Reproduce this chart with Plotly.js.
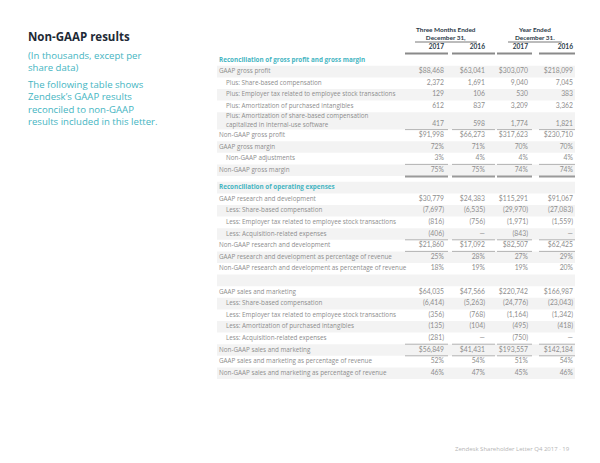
<!DOCTYPE html>
<html>
<head>
<meta charset="utf-8">
<script src="https://cdn.plot.ly/plotly-3.0.1.min.js"></script>
<style>
html, body { margin: 0; padding: 0; background: #fff; }
#chart { width: 600px; height: 463px; }
</style>
</head>
<body>
<div id="chart"></div>
<script>
// table rows ("" = spacer row)
var rowLabels = [
  "Reconciliation of gross profit and gross margin",
  "GAAP gross profit",
  "Plus: Share-based compensation",
  "Plus: Employer tax related to employee stock transactions",
  "Plus: Amortization of purchased intangibles",
  "Plus: Amortization of share-based compensation<br>capitalized in internal-use software",
  "Non-GAAP gross profit",
  "GAAP gross margin",
  "Non-GAAP adjustments",
  "Non-GAAP gross margin",
  "",
  "Reconciliation of operating expenses",
  "GAAP research and development",
  "Less: Share-based compensation",
  "Less: Employer tax related to employee stock transactions",
  "Less: Acquisition-related expenses",
  "Non-GAAP research and development",
  "GAAP research and development as percentage of revenue",
  "Non-GAAP research and development as percentage of revenue",
  "",
  "GAAP sales and marketing",
  "Less: Share-based compensation",
  "Less: Employer tax related to employee stock transactions",
  "Less: Amortization of purchased intangibles",
  "Less: Acquisition-related expenses",
  "Non-GAAP sales and marketing",
  "GAAP sales and marketing as percentage of revenue",
  "Non-GAAP sales and marketing as percentage of revenue"
];
var q4_2017 = [null, 88468, 2372, 129, 612, 417, 91998, 72, 3, 75, null, null, 30779, -7697, -816, -406, 21860, 25, 18, null, 64035, -6414, -356, -135, -281, 56849, 52, 46];
var q4_2016 = [null, 63041, 1691, 106, 837, 598, 66273, 71, 4, 75, null, null, 24383, -6535, -756, 0, 17092, 28, 19, null, 47566, -5263, -768, -104, 0, 41431, 54, 47];
var fy_2017 = [null, 303070, 9040, 530, 3209, 1774, 317623, 70, 4, 74, null, null, 115291, -29970, -1971, -843, 82507, 27, 19, null, 220742, -24776, -1164, -495, -750, 193557, 51, 45];
var fy_2016 = [null, 218099, 7045, 383, 3362, 1821, 230710, 70, 4, 74, null, null, 91067, -27083, -1559, 0, 62425, 29, 20, null, 166987, -23043, -1342, -418, 0, 142184, 54, 46];
var yearHeads = ["2017", "2016", "2017", "2016"];
var groupHeads = ["Three Months Ended<br>December 31,", "Year Ended<br>December 31."];

var columns = [q4_2017, q4_2016, fy_2017, fy_2016];

// geometry (pixel units, axes map 1:1 to the page)
var P = 11.6, top0 = 60;
var colRight = [444, 485, 528, 573];
var segL = [405, 452, 497, 539], segR = [448, 495, 532, 575];
var teal = "#45b5c2", grey = "#8e8e8e", dark = "#2b3a48";
var FONT = "Lato, 'Open Sans', sans-serif";
var LFONT = "'Open Sans', Lato, sans-serif";

function isHeader(l) { return l && l.indexOf("Reconciliation") === 0; }
function isPct(l) { return /margin|adjustments|percentage/.test(l); }
function isDollar(l) { return /^(GAAP|Non-GAAP)/.test(l) && !isPct(l); }

var span = rowLabels.map(function (l, i) {
  if (l.indexOf("<br>") >= 0) return 1.5;
  if (l === "") return isHeader(rowLabels[i + 1]) ? 0.5 : 1;
  return 1;
});
var yc = [top0];
for (var i = 1; i < rowLabels.length; i++) {
  yc.push(yc[i - 1] + (span[i - 1] + span[i]) / 2 * P);
}

function fmt(v, l) {
  if (v === null) return "";
  if (v === 0) return "\u2014";
  if (isPct(l)) return v + "%";
  var s = Math.abs(v).toLocaleString("en-US");
  if (v < 0) return "(" + s + ")";
  return (isDollar(l) ? "$" : "") + s;
}

var shapes = [];
// zebra bands
rowLabels.forEach(function (l, i) {
  if (i % 2 === 1) {
    shapes.push({type: "rect", xref: "x", yref: "y", x0: 217, x1: 575,
      y0: yc[i] - span[i] * P / 2, y1: yc[i] + span[i] * P / 2,
      fillcolor: "#f3f3f3", line: {width: 0}, layer: "below"});
  }
});
// underlines under value cells
var thinAfter = [5, 8, 15, 16, 24, 25];
thinAfter.forEach(function (i) {
  var y = yc[i] + span[i] * P / 2;
  for (var k = 0; k < 4; k++) {
    shapes.push({type: "line", xref: "x", yref: "y", x0: segL[k], x1: segR[k], y0: y, y1: y,
      line: {color: "#a0a0a0", width: 0.8}});
  }
});
[9].forEach(function (i) {
  var y = yc[i] + span[i] * P / 2 + 0.5;
  for (var k = 0; k < 4; k++) {
    shapes.push({type: "line", xref: "x", yref: "y", x0: segL[k], x1: segR[k], y0: y, y1: y,
      line: {color: "#9a9a9a", width: 2}});
  }
});
// header rules
for (var k = 0; k < 4; k++) {
  shapes.push({type: "line", xref: "x", yref: "y", x0: segL[k], x1: segR[k], y0: 53.5, y1: 53.5,
    line: {color: "#8a8a8a", width: 2}});
}
shapes.push({type: "line", xref: "x", yref: "y", x0: 415, x1: 477, y0: 42, y1: 42, line: {color: "#555", width: 0.8}});
shapes.push({type: "line", xref: "x", yref: "y", x0: 508, x1: 562, y0: 42, y1: 42, line: {color: "#555", width: 0.8}});

var traces = [];
// row labels
var normIdx = [], headIdx = [];
rowLabels.forEach(function (l, i) {
  if (l === "") return;
  if (isHeader(l)) headIdx.push(i); else normIdx.push(i);
});
traces.push({
  type: "scatter", mode: "text", cliponaxis: false, hoverinfo: "skip",
  x: normIdx.map(function (i) { return /^(Plus|Less)|adjustments/.test(rowLabels[i]) ? 226 : 219; }),
  y: normIdx.map(function (i) { return yc[i]; }),
  text: normIdx.map(function (i) { return rowLabels[i]; }),
  textposition: "middle right",
  textfont: {family: LFONT, size: 6.3, color: grey}
});
traces.push({
  type: "scatter", mode: "text", cliponaxis: false, hoverinfo: "skip",
  x: headIdx.map(function () { return 219; }),
  y: headIdx.map(function (i) { return yc[i]; }),
  text: headIdx.map(function (i) { return "<b>" + rowLabels[i] + "</b>"; }),
  textposition: "middle right",
  textfont: {family: LFONT, size: 6.3, color: teal}
});
// value columns
columns.forEach(function (col, k) {
  traces.push({
    type: "scatter", mode: "text", cliponaxis: false, hoverinfo: "skip",
    x: col.map(function () { return colRight[k]; }),
    y: col.map(function (v, i) { return span[i] > 1 ? yc[i] + P * 0.28 : yc[i]; }),
    text: col.map(function (v, i) { return fmt(v, rowLabels[i]); }),
    textposition: "middle left",
    textfont: {family: FONT, size: 6.8, color: grey}
  });
});
// year heads
traces.push({
  type: "scatter", mode: "text", cliponaxis: false, hoverinfo: "skip",
  x: colRight, y: colRight.map(function () { return 47.5; }),
  text: yearHeads.map(function (t) { return "<b>" + t + "</b>"; }),
  textposition: "middle left",
  textfont: {family: FONT, size: 6.6, color: dark}
});

var annotations = [
  {x: 446, y: 33, text: "<b>" + groupHeads[0] + "</b>"},
  {x: 535, y: 33, text: "<b>" + groupHeads[1] + "</b>"}
].map(function (a) {
  return {xref: "x", yref: "y", x: a.x, y: a.y, text: a.text, showarrow: false,
    xanchor: "center", yanchor: "middle", align: "center",
    font: {family: FONT, size: 6.4, color: dark}};
});
annotations.push({xref: "x", yref: "y", x: 26, y: 36, text: "<b>Non-GAAP results</b>", showarrow: false,
  xanchor: "left", yanchor: "middle", font: {family: LFONT, size: 11.5, color: "#1e2a36"}});
annotations.push({xref: "x", yref: "y", x: 26, y: 61, showarrow: false, xanchor: "left", yanchor: "middle", align: "left",
  text: "(In thousands, except per<br>share data)", font: {family: LFONT, size: 9.6, color: teal}});
annotations.push({xref: "x", yref: "y", x: 26, y: 102.5, showarrow: false, xanchor: "left", yanchor: "middle", align: "left",
  text: "The following table shows<br>Zendesk\u2019s GAAP results<br>reconciled to non-GAAP<br>results included in this letter.",
  font: {family: LFONT, size: 9.6, color: teal}});
annotations.push({xref: "x", yref: "y", x: 572, y: 449, showarrow: false, xanchor: "right", yanchor: "middle",
  text: "Zendesk Shareholder Letter Q4 2017 \u00b7 19", font: {family: LFONT, size: 6, color: "#b5b5b5"}});

var layout = {
  width: 600, height: 463,
  margin: {l: 0, r: 0, t: 0, b: 0},
  paper_bgcolor: "#fff", plot_bgcolor: "#fff",
  showlegend: false,
  xaxis: {range: [0, 600], visible: false, fixedrange: true},
  yaxis: {range: [463, 0], visible: false, fixedrange: true},
  shapes: shapes,
  annotations: annotations
};

Plotly.newPlot("chart", traces, layout, {staticPlot: true});
</script>
</body>
</html>
